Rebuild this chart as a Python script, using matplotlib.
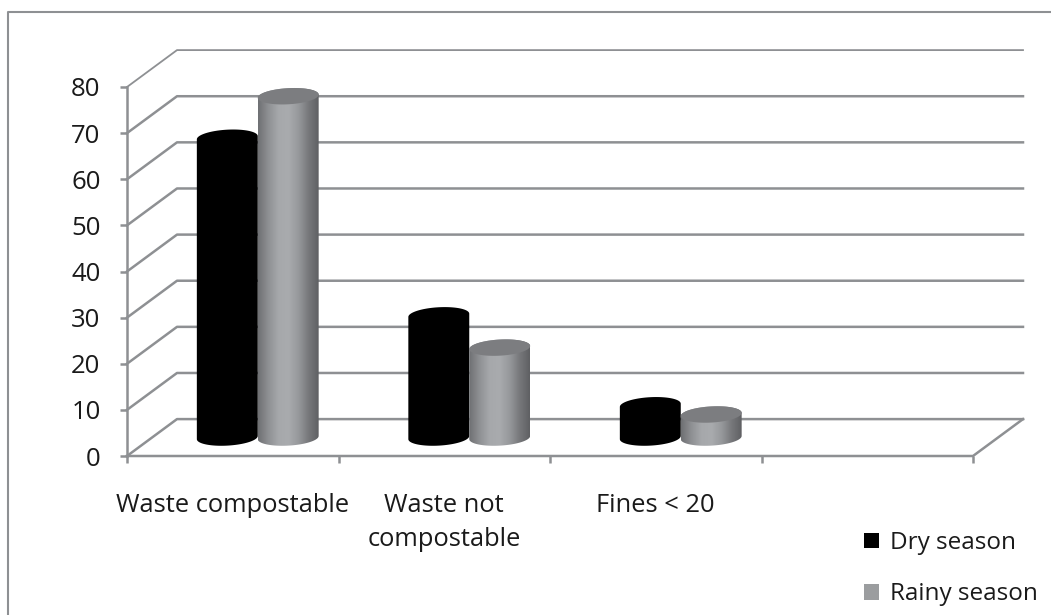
import numpy as np
import matplotlib
matplotlib.use("Agg")
import matplotlib.pyplot as plt
from matplotlib.patches import Polygon, Patch
from matplotlib.lines import Line2D
from matplotlib.colors import LinearSegmentedColormap

categories = ["Waste compostable", "Waste not\ncompostable", "Fines < 20"]
dry_season = [65, 26.5, 7]
rainy_season = [74, 19.5, 5]
y_ticks = [0, 10, 20, 30, 40, 50, 60, 70, 80]
series_names = ["Dry season", "Rainy season"]

W, H = 1051, 615
GRID = "#8e9093"
TEXT = "#1a1a1a"
plt.rcParams["font.family"] = ["Open Sans", "DejaVu Sans"]

fig = plt.figure(figsize=(W / 100, H / 100), dpi=100, facecolor="white")
ax = fig.add_axes([127 / W, 1 - 456 / H, (973 - 127) / W, (456 - 87) / H])
ax.set_xlim(0, 4)
ax.set_ylim(0, 80)
for s in ax.spines.values():
    s.set_visible(False)

depth_x = 50 / 211.5   # depth of the 3D box in category units
depth_y = 8.0          # depth of the 3D box in value units

# back wall and side wall
for v in y_ticks:
    lw = 1.3 if v == 80 else 1.8
    ax.plot([0, depth_x, 4 + depth_x], [v, v + depth_y, v + depth_y],
            color=GRID, lw=lw, clip_on=False, zorder=1, solid_joinstyle="round")
# floor and vertical axis
ax.plot([0, 4, 4 + depth_x], [0, 0, depth_y], color=GRID, lw=1.8, clip_on=False, zorder=1)
ax.plot([0, 0], [0, 80], color=GRID, lw=1.8, clip_on=False, zorder=1)

half_w = 0.144
ell_h = 1.75
tilt = 0.35
base = depth_y / 2
cmap_grey = LinearSegmentedColormap.from_list(
    "cyl", ["#6f7073", "#8e9093", "#a6a8ab", "#a9abae", "#97999c", "#77787b", "#5f6063"])


def cylinder(cx, value, face=None):
    t = np.linspace(0, np.pi, 60)
    top = base + value
    c = np.cos(t)
    s = np.sin(t)
    xs = np.r_[cx + half_w * c, cx - half_w * c]
    ys = np.r_[top + ell_h * s + tilt * c, base - ell_h * s - tilt * c]
    if face is None:
        body = Polygon(np.c_[xs, ys], closed=True, fc="none", ec="none")
        ax.add_patch(body)
        im = ax.imshow(np.linspace(0, 1, 128)[None, :], cmap=cmap_grey, aspect="auto",
                       extent=[cx - half_w, cx + half_w, base - ell_h - tilt, top + ell_h + tilt],
                       zorder=3, interpolation="bilinear")
        im.set_clip_path(body)
        cap_x = np.r_[cx + half_w * c, cx - half_w * c]
        cap_y = np.r_[top + ell_h * s + tilt * c, top - ell_h * s - tilt * c]
        ax.add_patch(Polygon(np.c_[cap_x, cap_y], closed=True, fc="#7c7d80", ec="none",
                             zorder=4, clip_on=False))
    else:
        ax.add_patch(Polygon(np.c_[xs, ys], closed=True, fc=face, ec="none", zorder=2.5,
                             clip_on=False))


for i in range(len(categories)):
    centre = i + 0.5 + depth_x / 2
    cylinder(centre - half_w, dry_season[i], face="#000000")
    cylinder(centre + half_w, rainy_season[i])

ax.set_xlim(0, 4)
ax.set_ylim(0, 80)

ax.set_yticks(y_ticks)
ax.set_yticklabels([str(v) for v in y_ticks])
ax.tick_params(axis="y", length=5, width=1.8, color=GRID, labelsize=18.5, labelcolor=TEXT, pad=14)
for lab in ax.get_yticklabels():
    lab.set_y(lab.get_position()[1])
ax.set_xticks([0, 1, 2, 3, 4])
ax.set_xticklabels([])
ax.tick_params(axis="x", which="major", length=5, width=1.8, color=GRID)
ax.set_xticks([i + 0.5 for i in range(len(categories))], minor=True)
ax.set_xticklabels(categories, minor=True, fontsize=18.4, color=TEXT, linespacing=1.5)
ax.tick_params(axis="x", which="minor", length=0, pad=26.5)

handles = [Patch(fc="#000000", ec="none"), Patch(fc="#9b9d9f", ec="none")]
leg = fig.legend(handles, series_names, loc="upper left",
                 bbox_to_anchor=(864 / W, 1 - 531 / H), bbox_transform=fig.transFigure,
                 frameon=False, fontsize=17.5, handlelength=0.62, handleheight=0.62,
                 handletextpad=0.45, labelspacing=1.12, borderpad=0, borderaxespad=0)
for t in leg.get_texts():
    t.set_color(TEXT)

fig.add_artist(Line2D([8 / W, 8 / W, 1], [0, 1 - 12 / H, 1 - 12 / H],
                      color=GRID, lw=1.5, transform=fig.transFigure))

fig.savefig("out.png", dpi=100, facecolor="white")
